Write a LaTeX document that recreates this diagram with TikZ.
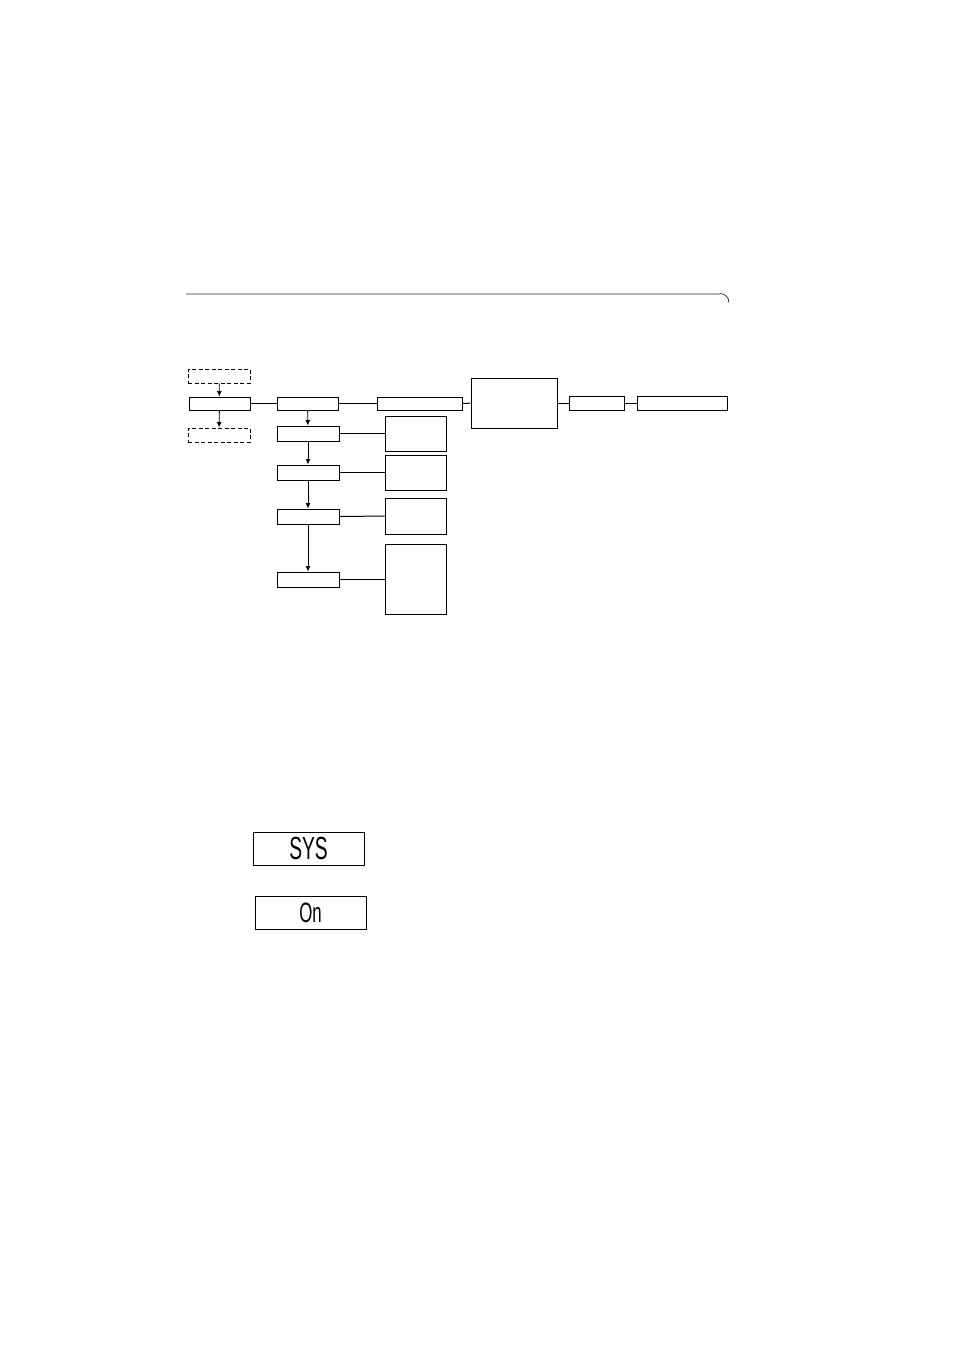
\documentclass[tikz,border=0pt]{standalone}
\usepackage{fontspec}
\setsansfont{Liberation Sans}
\usepackage{graphicx}
\usetikzlibrary{arrows.meta}
\definecolor{RuleGray}{HTML}{B4B4B4}
\newcommand{\segtext}[2]{\sffamily\fontsize{#1}{#1}\selectfont\scalebox{0.6}[1]{#2}}

\begin{document}
\begin{tikzpicture}[x=1pt,y=-1pt,
  box/.style={draw,line width=1pt,inner sep=0pt},
  dbox/.style={box,dash pattern=on 4pt off 2.5pt},
  lcd/.style={draw,line width=0.8pt,inner sep=0pt,minimum width=111,minimum height=33},
  arr/.style={-{Latex[length=5.5pt,width=5pt]},line width=0.8pt},
  lnk/.style={line width=1pt}]
\useasboundingbox (0,0) rectangle (954,1350);
\draw[RuleGray,line width=2pt] (186,293.5)--(720,293.5);
\draw[line width=0.6pt] (720,293.5) arc[start angle=-90,end angle=0,radius=9];
\node[dbox,minimum width=62,minimum height=14] (pre) at (219,376) {};
\node[box,minimum width=61,minimum height=13] (start) at (219.5,403.5) {};
\node[dbox,minimum width=62,minimum height=14] (post) at (219,435) {};
\node[box,minimum width=61,minimum height=13] (sys) at (307.5,403.5) {};
\node[box,minimum width=85,minimum height=13] (menu) at (419.5,403.5) {};
\node[box,minimum width=86,minimum height=50] (main) at (514,403) {};
\node[box,minimum width=55,minimum height=14] (opt) at (596.5,403) {};
\node[box,minimum width=90,minimum height=14] (end) at (682,403) {};
\node[box,minimum width=62,minimum height=15] (stepa) at (308,433.5) {};
\node[box,minimum width=62,minimum height=15] (stepb) at (308,472.5) {};
\node[box,minimum width=62,minimum height=15] (stepc) at (308,516.5) {};
\node[box,minimum width=62,minimum height=15] (stepd) at (308,579.5) {};
\node[box,minimum width=61,minimum height=35] (notea) at (415.5,433.5) {};
\node[box,minimum width=61,minimum height=35] (noteb) at (415.5,472.5) {};
\node[box,minimum width=61,minimum height=36] (notec) at (415.5,516) {};
\node[box,minimum width=61,minimum height=70] (noted) at (415.5,579) {};
\draw[arr] (pre)--(start);
\draw[arr] (start)--(post);
\draw[lnk] (start)--(sys);
\draw[lnk] (sys)--(menu);
\draw[lnk] (menu)--(main);
\draw[lnk] (main)--(opt);
\draw[lnk] (opt)--(end);
\draw[arr] (sys)--(stepa);
\draw[arr] (stepa)--(stepb);
\draw[arr] (stepb)--(stepc);
\draw[arr] (stepc)--(stepd);
\draw[lnk] (stepa)--(notea);
\draw[lnk] (stepb)--(noteb);
\draw[lnk] (stepc)--(notec);
\draw[lnk] (stepd.east)--(stepd.east-|noted.west);
\node[lcd] (lcda) at (308.5,848.5) {\segtext{32}{SYS}};
\node[lcd] (lcdb) at (310.5,912.5) {\segtext{28}{On}};
\draw[line width=1.6pt] (lcda.north east)--(lcda.south east)--(lcda.south west);
\draw[line width=1.6pt] (lcdb.north east)--(lcdb.south east)--(lcdb.south west);
\end{tikzpicture}
\end{document}
